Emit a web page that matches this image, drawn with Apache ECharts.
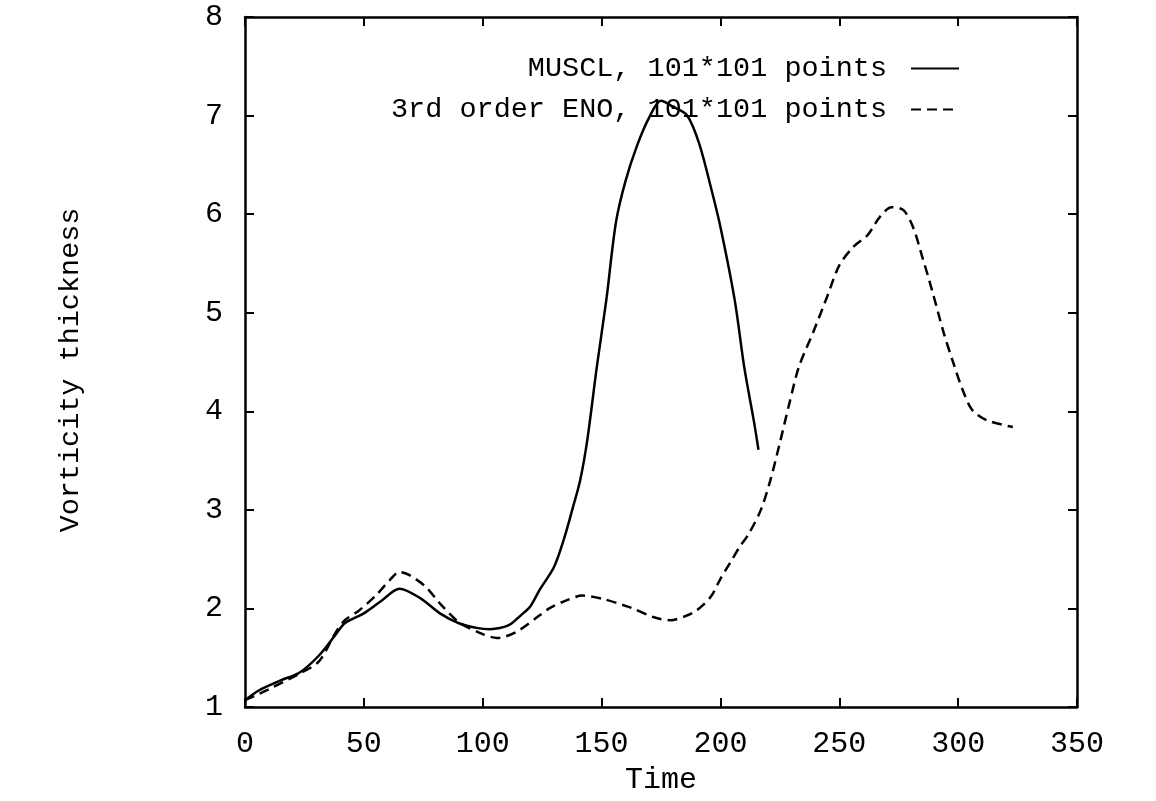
<!DOCTYPE html>
<html>
<head>
<meta charset="utf-8">
<script src="https://cdn.jsdelivr.net/npm/echarts@6/dist/echarts.min.js"></script>
<style>
    html, body { margin: 0; padding: 0; background: #fff; }
    #chart { width: 1156px; height: 801px; }
</style>
</head>
<body>
<div id="chart"></div>
<script>
var musclName = 'MUSCL, 101*101 points';
var enoName = '3rd order ENO, 101*101 points';

var musclTime  = [0, 6, 15, 23, 31, 38, 42, 50, 57, 65, 74, 82, 90, 98, 103, 111, 116, 120, 124, 130, 134, 138, 141, 144, 148, 152, 156, 160, 165, 170, 175, 180, 186, 191, 196, 200, 206, 210, 214, 216];
var musclValue = [1.07, 1.17, 1.27, 1.35, 1.52, 1.73, 1.85, 1.95, 2.07, 2.2, 2.1, 1.95, 1.85, 1.8, 1.79, 1.83, 1.93, 2.02, 2.19, 2.42, 2.69, 3.03, 3.3, 3.71, 4.45, 5.13, 5.91, 6.33, 6.7, 6.98, 7.15, 7.09, 7.0, 6.72, 6.27, 5.87, 5.13, 4.45, 3.91, 3.61];

var enoTime  = [0, 10, 23, 31, 38, 42, 48, 55, 61, 65, 69, 76, 82, 90, 99, 106, 114, 124, 128, 135, 142, 150, 162, 172, 179, 185, 190, 196, 200, 204, 208, 212, 217, 221, 225, 229, 233, 239, 245, 250, 256, 262, 267, 272, 277, 281, 285, 289, 294, 298, 302, 306, 312, 323];
var enoValue = [1.07, 1.18, 1.34, 1.46, 1.75, 1.88, 1.98, 2.13, 2.29, 2.37, 2.34, 2.22, 2.05, 1.86, 1.75, 1.7, 1.76, 1.93, 2.0, 2.08, 2.13, 2.1, 2.01, 1.91, 1.88, 1.92, 1.98, 2.12, 2.3, 2.46, 2.62, 2.76, 3.0, 3.3, 3.68, 4.08, 4.45, 4.8, 5.17, 5.48, 5.67, 5.79, 5.97, 6.07, 6.04, 5.87, 5.56, 5.23, 4.79, 4.49, 4.21, 4.01, 3.91, 3.84];

function pairs(xs, ys) {
    return xs.map(function (x, i) { return [x, ys[i]]; });
}

var fontFamily = '"Liberation Mono", "Courier New", monospace';
var axisLine = { show: true, onZero: false, lineStyle: { color: '#000', width: 2.5 } };
var axisTick = { show: true, inside: true, length: 9, lineStyle: { color: '#000', width: 2 } };
var labelStyle = { color: '#000', fontSize: 30, fontFamily: fontFamily };

var chart = echarts.init(document.getElementById('chart'));

var option = {
    animation: false,
    backgroundColor: '#fff',
    textStyle: { fontFamily: fontFamily },
    grid: {
        left: 245,
        right: 79,
        top: 17,
        bottom: 94
    },
    legend: {
        orient: 'vertical',
        right: 191,
        top: 49,
        align: 'right',
        itemWidth: 48,
        itemHeight: 14,
        itemGap: 12,
        itemStyle: { opacity: 0 },
        data: [musclName, enoName],
        textStyle: {
            color: '#000',
            fontSize: 28.5,
            fontFamily: fontFamily,
            padding: [0, 19, 0, 0]
        }
    },
    xAxis: [
        {
            type: 'value',
            position: 'bottom',
            min: 0,
            max: 350,
            interval: 50,
            name: 'Time',
            nameLocation: 'middle',
            nameGap: 58,
            nameTextStyle: labelStyle,
            axisLine: axisLine,
            axisTick: axisTick,
            axisLabel: Object.assign({ margin: 22 }, labelStyle),
            splitLine: { show: false }
        },
        {
            type: 'value',
            position: 'top',
            min: 0,
            max: 350,
            interval: 50,
            axisLine: axisLine,
            axisTick: axisTick,
            axisLabel: { show: false },
            splitLine: { show: false }
        }
    ],
    yAxis: [
        {
            type: 'value',
            position: 'left',
            min: 1,
            max: 8,
            interval: 1,
            name: 'Vorticity thickness',
            nameLocation: 'middle',
            nameRotate: 90,
            nameGap: 160,
            nameTextStyle: {
                color: '#000',
                fontSize: 28.5,
                fontFamily: fontFamily,
                padding: [0, 16, 0, 0]
            },
            axisLine: axisLine,
            axisTick: axisTick,
            axisLabel: Object.assign({ margin: 22 }, labelStyle),
            splitLine: { show: false }
        },
        {
            type: 'value',
            position: 'right',
            min: 1,
            max: 8,
            interval: 1,
            axisLine: axisLine,
            axisTick: axisTick,
            axisLabel: { show: false },
            splitLine: { show: false }
        }
    ],
    series: [
        {
            name: musclName,
            type: 'line',
            smooth: 0.3,
            showSymbol: false,
            symbol: 'none',
            color: '#000',
            lineStyle: { color: '#000', width: 2.5, type: 'solid' },
            data: pairs(musclTime, musclValue)
        },
        {
            name: enoName,
            type: 'line',
            smooth: 0.3,
            showSymbol: false,
            symbol: 'none',
            color: '#000',
            lineStyle: { color: '#000', width: 2.5, type: [10, 6] },
            data: pairs(enoTime, enoValue)
        }
    ]
};

chart.setOption(option);
</script>
</body>
</html>
